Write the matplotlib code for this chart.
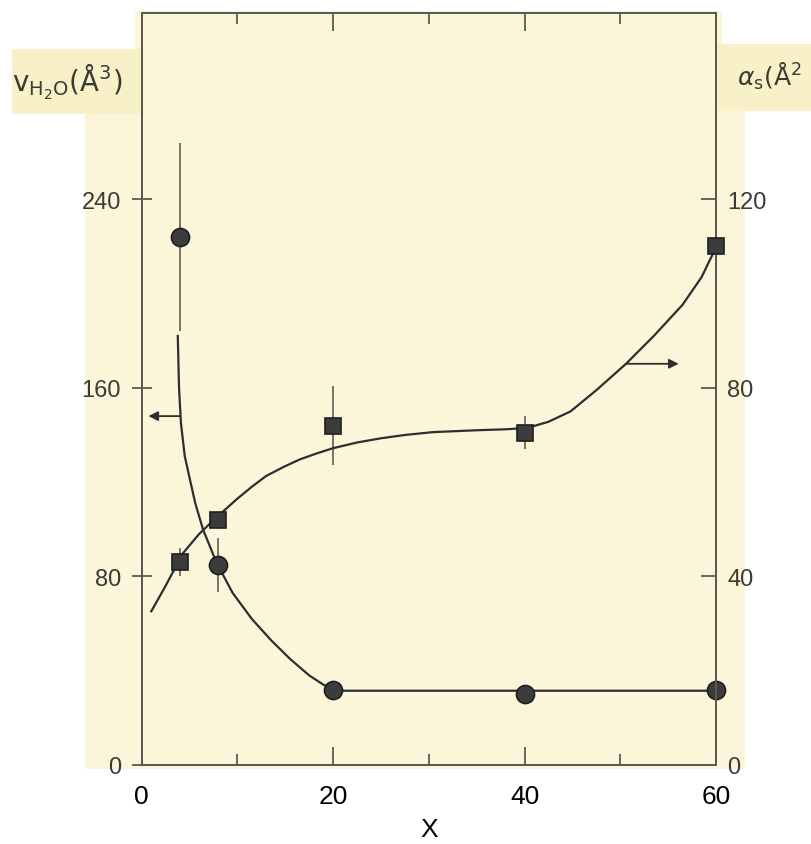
import matplotlib.pyplot as plt
from matplotlib.patches import Rectangle

# measured points (X = [H2O]/[AOT])
x_pts = [4, 8, 20, 40, 60]
v_h2o = [224, 85, 32, 30, 32]          # left axis, A^3
v_h2o_err = [40, 11.5, 0, 0, 0]
alpha_s = [43, 52, 72, 70.5, 110]      # right axis, A^2
alpha_s_err = [3, 0, 8.3, 3.5, 0]

# hand-drawn guide curves
v_curve_x = [3.77, 3.9, 4.1, 4.5, 5.1, 5.6, 6.4, 7.8, 9.5, 11.5, 13.5, 15.5, 17.5, 19.0, 20.5, 60]
v_curve_y = [182, 160, 145, 131, 120, 111, 100, 86, 73, 62, 53, 45, 38, 34, 31.5, 31.5]
a_curve_x = [1.0, 2.5, 4.3, 6.0, 7.8, 10, 11.5, 13, 14.8, 16.5, 18.3, 20, 22.5, 25, 27.5, 30.4,
             35, 38, 40.3, 42.5, 44.8, 47.5, 50.6, 53.5, 56.5, 58.5, 60]
a_curve_y = [32.6, 38, 44.9, 49, 52.5, 56.5, 59, 61.3, 63.2, 64.8, 66.1, 67.2, 68.4, 69.3, 70, 70.6,
             71, 71.2, 71.5, 72.8, 75, 79.5, 85.1, 91, 97.6, 103.5, 109.8]

left_ticks = [0, 80, 160, 240]
right_ticks = [0, 40, 80, 120]
x_ticks = [0, 20, 40, 60]
x_minor = [10, 30, 50]

W, H = 812, 845
paper = '#fbf6da'
patch = '#f8f1c8'
ink = '#2e2e2e'
scan_font = ['Liberation Sans', 'DejaVu Sans']
clean_font = ['Liberation Sans', 'DejaVu Sans']

fig = plt.figure(figsize=(W / 100, H / 100), dpi=100, facecolor='white')


def px_rect(x0, y0, x1, y1, color):
    # rectangle given in pixel coords, origin top-left
    r = Rectangle((x0 / W, 1 - y1 / H), (x1 - x0) / W, (y1 - y0) / H,
                  transform=fig.transFigure, facecolor=color, edgecolor='none', zorder=-10)
    fig.add_artist(r)


px_rect(85, 112, 745, 770, paper)
px_rect(135, 12, 722, 120, paper)
px_rect(12, 50, 141, 115, patch)
px_rect(716, 45, 812, 112, patch)

ax = fig.add_axes([141.7 / W, 1 - 766 / H, (716 - 141.7) / W, (766 - 14) / H])
ax.set_facecolor(paper)
ax.set_xlim(0, 60)
ax.set_ylim(0, 319)
ax2 = ax.twinx()
ax2.set_ylim(0, 159.5)

for a in (ax, ax2):
    for s in a.spines.values():
        s.set_color('#5a5a50')
        s.set_linewidth(1.4)

# water volume (circles, left axis)
ax.plot(v_curve_x, v_curve_y, color=ink, lw=1.6, zorder=3)
ax.errorbar(x_pts, v_h2o, yerr=v_h2o_err, fmt='none', ecolor='#6a6a60', elinewidth=1.3, capsize=0, zorder=2)
ax.plot(x_pts, v_h2o, 'o', ms=13, mfc='#3c3c3c', mec='#1e1e1e', mew=1.2, zorder=4, clip_on=False)
ax.annotate('', xy=(0.7, 148), xytext=(4.0, 148),
            arrowprops=dict(arrowstyle='-|>', color=ink, lw=1.3, mutation_scale=14, shrinkA=0, shrinkB=0))

# surface per head (squares, right axis)
ax2.plot(a_curve_x, a_curve_y, color=ink, lw=1.6, zorder=3)
ax2.errorbar(x_pts, alpha_s, yerr=alpha_s_err, fmt='none', ecolor='#6a6a60', elinewidth=1.3, capsize=0, zorder=2)
ax2.plot(x_pts, alpha_s, 's', ms=12, mfc='#3c3c3c', mec='#1e1e1e', mew=1.2, zorder=4, clip_on=False)
ax2.annotate('', xy=(56.1, 85.1), xytext=(50.6, 85.1),
             arrowprops=dict(arrowstyle='-|>', color=ink, lw=1.3, mutation_scale=14, shrinkA=0, shrinkB=0))

# ticks
ax.set_xticks(x_ticks)
ax.set_xticks(x_minor, minor=True)
ax.set_xticklabels([str(t) for t in x_ticks], fontfamily=clean_font, fontsize=19, color='black')
ax.tick_params(axis='x', which='major', direction='in', length=13, width=1.3, color='#5a5a50',
               top=True, pad=14)
ax.tick_params(axis='x', which='minor', direction='in', length=8, width=1.3, color='#5a5a50', top=True)

ax.set_yticks(left_ticks)
ax.set_yticklabels([str(t) for t in left_ticks], fontfamily=scan_font, fontsize=17, color='#3a3a36')
ax.tick_params(axis='y', direction='inout', length=14, width=1.3, color='#5a5a50', pad=8)

ax2.set_yticks(right_ticks)
ax2.set_yticklabels([str(t) for t in right_ticks], fontfamily=scan_font, fontsize=17, color='#3a3a36')
ax2.tick_params(axis='y', direction='in', length=11, width=1.3, color='#5a5a50', pad=8)

ax.set_xlabel('X', fontfamily=clean_font, fontsize=19, color='black', labelpad=6)

# axis titles at the top corners
fig.text(12 / W, 1 - 82 / H, r'$\mathrm{v_{H_2O}}(\mathrm{\AA}^3)$', fontsize=20, color='#3a3a36',
         ha='left', va='center')
fig.text(737 / W, 1 - 76 / H, r'$\alpha_{\mathrm{s}}(\mathrm{\AA}^2$', fontsize=18, color='#3a3a36',
         ha='left', va='center')

fig.savefig('out.png', dpi=100, facecolor='white')
